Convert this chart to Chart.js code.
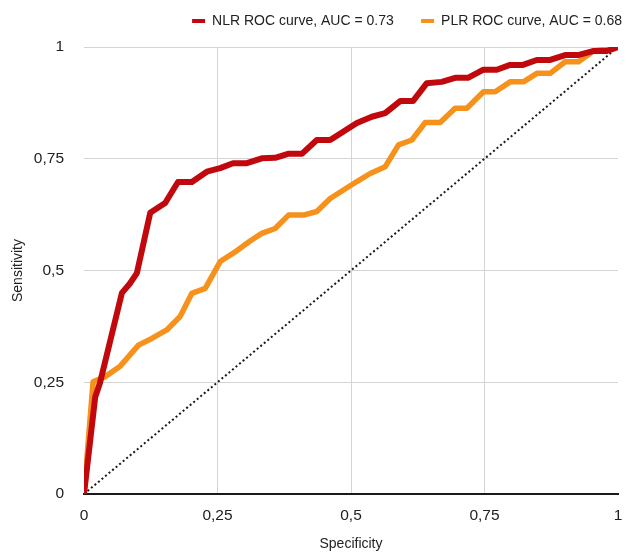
<!DOCTYPE html>
<html>
<head>
<meta charset="utf-8">
<script src="https://cdn.jsdelivr.net/npm/chart.js@4.4.1/dist/chart.umd.min.js"></script>
<style>
  html, body { margin: 0; padding: 0; background: #fff; }
  canvas { display: block; }
</style>
</head>
<body>
<canvas id="roc" width="626" height="554"></canvas>
<script>
// NLR curve (x = specificity axis, y = sensitivity)
const nlrX = [0, 0.021, 0.030, 0.071, 0.086, 0.099, 0.124, 0.152, 0.176, 0.202, 0.230, 0.255, 0.279, 0.305,
    0.333, 0.358, 0.382, 0.408, 0.436, 0.461, 0.486, 0.511, 0.539, 0.564, 0.592, 0.616, 0.642, 0.670,
    0.695, 0.719, 0.747, 0.773, 0.798, 0.822, 0.848, 0.873, 0.901, 0.925, 0.953, 0.979, 1];
const nlrY = [0, 0.217, 0.249, 0.450, 0.471, 0.494, 0.629, 0.651, 0.698, 0.698, 0.721, 0.729, 0.740, 0.740,
    0.751, 0.752, 0.761, 0.761, 0.792, 0.792, 0.811, 0.830, 0.844, 0.852, 0.879, 0.879, 0.919, 0.922,
    0.931, 0.931, 0.949, 0.949, 0.960, 0.960, 0.971, 0.971, 0.982, 0.982, 0.991, 0.991, 1];

// PLR curve
const plrX = [0, 0.017, 0.039, 0.067, 0.102, 0.127, 0.155, 0.180, 0.202, 0.227, 0.255, 0.286, 0.311, 0.333,
    0.358, 0.383, 0.411, 0.436, 0.461, 0.486, 0.511, 0.536, 0.564, 0.589, 0.614, 0.639, 0.667, 0.695,
    0.717, 0.748, 0.770, 0.798, 0.823, 0.848, 0.873, 0.901, 0.926, 0.954, 1];
const plrY = [0, 0.251, 0.262, 0.285, 0.333, 0.348, 0.367, 0.397, 0.449, 0.460, 0.520, 0.544, 0.566, 0.583,
    0.594, 0.624, 0.624, 0.632, 0.661, 0.680, 0.699, 0.717, 0.732, 0.781, 0.792, 0.831, 0.831, 0.863,
    0.863, 0.900, 0.900, 0.922, 0.922, 0.941, 0.941, 0.967, 0.967, 0.991, 1];

const refX = [0, 1];
const refY = [0, 1];

const seriesLabels = ["NLR ROC curve, AUC = 0.73", "PLR ROC curve, AUC = 0.68"];
const tickValues = [0, 0.25, 0.5, 0.75, 1];

function toPoints(xs, ys) {
    return xs.map((x, i) => ({ x: x, y: ys[i] }));
}
function fmt(v) {
    return String(v).replace(".", ",");
}

Chart.defaults.font.family = "'Liberation Sans', Arial, sans-serif";
Chart.defaults.color = "#222";

// legend needs a fixed height so the plot starts at the right place
const legendHeight = {
    id: "legendHeight",
    beforeInit(chart) {
        const fit = chart.legend.fit;
        chart.legend.fit = function () {
            fit.call(this);
            this.height = 37;
        };
    }
};

new Chart(document.getElementById("roc"), {
    type: "line",
    data: {
        datasets: [
            {
                label: seriesLabels[0] + "      ",
                data: toPoints(nlrX, nlrY),
                borderColor: "#c0080d",
                backgroundColor: "#c0080d",
                borderWidth: 6,
                borderJoinStyle: "round",
                pointRadius: 0,
                tension: 0
            },
            {
                label: seriesLabels[1],
                data: toPoints(plrX, plrY),
                borderColor: "#f6911c",
                backgroundColor: "#f6911c",
                borderWidth: 5.5,
                borderJoinStyle: "round",
                pointRadius: 0,
                tension: 0
            },
            {
                label: "ref",
                data: toPoints(refX, refY),
                borderColor: "#1a1a1a",
                borderWidth: 2,
                borderDash: [2, 2.6],
                pointRadius: 0
            }
        ]
    },
    options: {
        responsive: false,
        animation: false,
        layout: { padding: { top: 10, left: 0, right: 0, bottom: 0 } },
        plugins: {
            legend: {
                align: "end",
                labels: {
                    filter: item => item.datasetIndex < 2,
                    generateLabels(chart) {
                        const items = Chart.defaults.plugins.legend.labels.generateLabels(chart);
                        items.forEach(it => { it.lineWidth = 0; });
                        return items;
                    },
                    boxWidth: 13,
                    boxHeight: 4,
                    padding: 4,
                    color: "#222",
                    font: { size: 14 }
                }
            },
            tooltip: { enabled: false }
        },
        scales: {
            x: {
                type: "linear",
                min: 0,
                max: 1,
                afterFit(scale) {
                    scale.height = 60;
                    scale.paddingRight = 8;
                },
                afterBuildTicks(scale) {
                    scale.ticks = tickValues.map(v => ({ value: v }));
                },
                border: { color: "#1a1a1a", width: 2 },
                grid: {
                    drawTicks: false,
                    color: ctx => (ctx.tick && (ctx.tick.value === 0 || ctx.tick.value === 1)) ? "rgba(0,0,0,0)" : "#d4d4d4",
                    lineWidth: 1
                },
                ticks: {
                    padding: 12,
                    maxRotation: 0,
                    font: { size: 15.5 },
                    color: "#222",
                    callback: v => fmt(v)
                },
                title: {
                    display: true,
                    text: "Specificity",
                    font: { size: 14 },
                    color: "#222",
                    padding: { top: 0, bottom: 1 }
                }
            },
            y: {
                type: "linear",
                min: 0,
                max: 1,
                afterFit(scale) {
                    scale.width = 84;
                },
                afterBuildTicks(scale) {
                    scale.ticks = tickValues.map(v => ({ value: v }));
                },
                border: { display: false },
                grid: {
                    drawTicks: false,
                    color: ctx => (ctx.tick && ctx.tick.value === 0) ? "rgba(0,0,0,0)" : "#d4d4d4",
                    lineWidth: 1
                },
                ticks: {
                    padding: 20,
                    font: { size: 15.5 },
                    color: "#222",
                    callback: v => fmt(v)
                },
                title: {
                    display: true,
                    text: "Sensitivity",
                    font: { size: 14 },
                    color: "#222",
                    padding: { top: 10, bottom: 0 }
                }
            }
        }
    },
    plugins: [legendHeight]
});
</script>
</body>
</html>
